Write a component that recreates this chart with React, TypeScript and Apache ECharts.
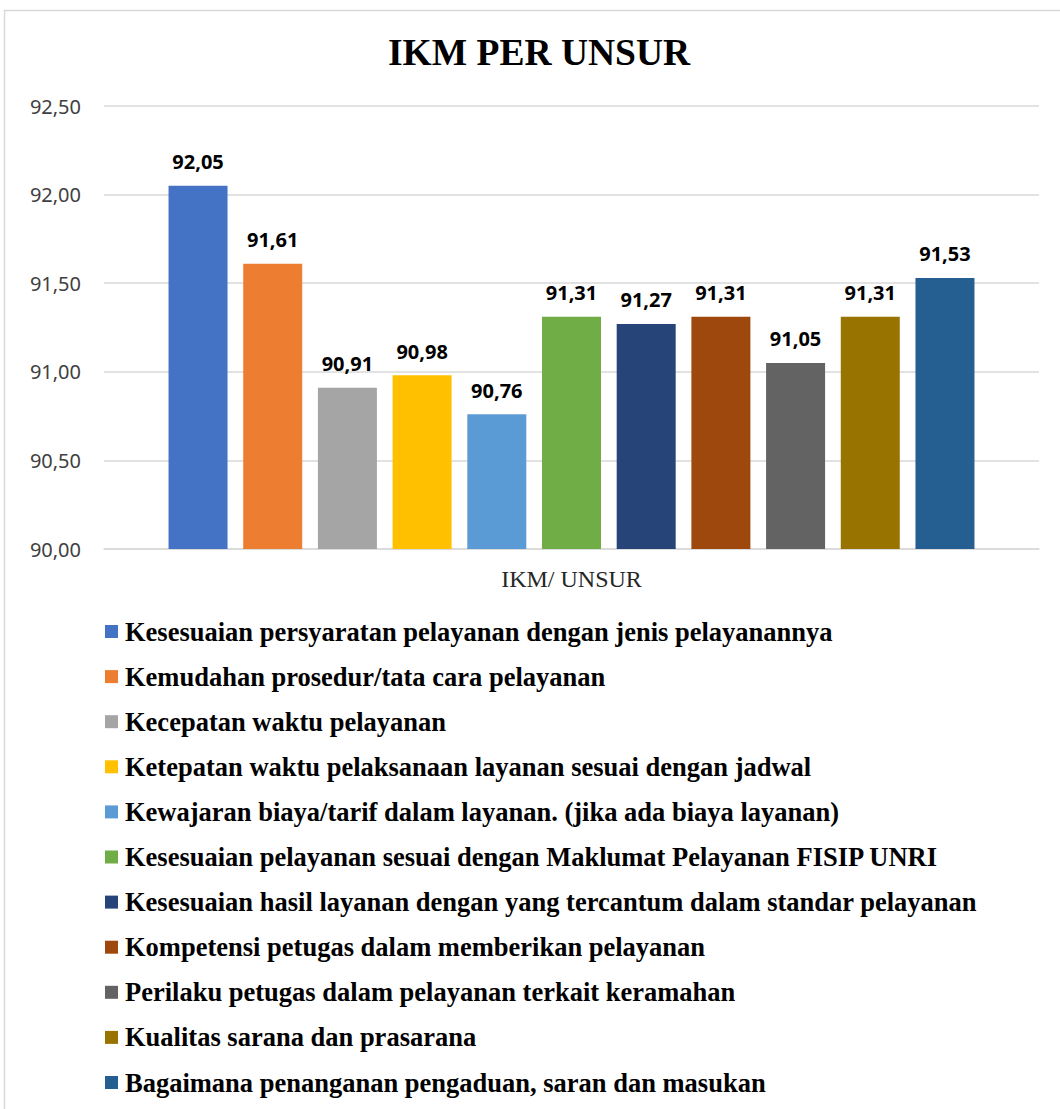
import React, { useEffect, useRef } from "react";
import * as echarts from "echarts";

const categories = ["IKM/ UNSUR"];
const seriesNames = [
  "Kesesuaian persyaratan pelayanan dengan jenis pelayanannya",
  "Kemudahan prosedur/tata cara pelayanan",
  "Kecepatan waktu pelayanan",
  "Ketepatan waktu pelaksanaan layanan sesuai dengan jadwal",
  "Kewajaran biaya/tarif dalam layanan. (jika ada biaya layanan)",
  "Kesesuaian pelayanan sesuai dengan Maklumat Pelayanan FISIP UNRI",
  "Kesesuaian hasil layanan dengan yang tercantum dalam standar pelayanan",
  "Kompetensi petugas dalam memberikan pelayanan",
  "Perilaku petugas dalam pelayanan terkait keramahan",
  "Kualitas sarana dan prasarana",
  "Bagaimana penanganan pengaduan, saran dan masukan",
];
const values = [92.05, 91.61, 90.91, 90.98, 90.76, 91.31, 91.27, 91.31, 91.05, 91.31, 91.53];
const colors = [
  "#4472C4", "#ED7D31", "#A5A5A5", "#FFC000", "#5B9BD5", "#70AD47",
  "#264478", "#9E480E", "#636363", "#997300", "#255E91",
];

const fmt = (v: number) => v.toFixed(2).replace(".", ",");

export default function App() {
  const ref = useRef<HTMLDivElement>(null);
  useEffect(() => {
    const chart = echarts.init(ref.current!, null, { renderer: "svg" });
    chart.setOption({
      animation: false,
      backgroundColor: "#ffffff",
      title: {
        text: "IKM PER UNSUR",
        left: 383,
        top: 28,
        textStyle: {
          fontFamily: "Liberation Serif",
          fontWeight: "bold",
          fontSize: 37.5,
          color: "#000000",
        },
      },
      graphic: [
        {
          type: "rect",
          shape: { x: 4.5, y: 10.5, width: 1070, height: 1110 },
          style: { fill: "none", stroke: "#d9d9d9", lineWidth: 1.5 },
          silent: true,
        },
      ],
      legend: {
        orient: "vertical",
        left: 105,
        top: 618,
        height: 490,
        padding: 0,
        itemWidth: 13,
        itemHeight: 13,
        itemGap: 18.1,
        icon: "rect",
        data: seriesNames,
        textStyle: {
          fontFamily: "Liberation Serif",
          fontWeight: "bold",
          fontSize: 26.5,
          lineHeight: 26,
          color: "#000000",
          padding: [0, 0, 0, 2],
        },
      },
      grid: { left: 104, right: 21, top: 106, bottom: 560, containLabel: false },
      xAxis: {
        type: "category",
        data: categories,
        axisTick: { show: false },
        axisLine: { show: true, lineStyle: { color: "#d9d9d9", width: 1.5 } },
        axisLabel: {
          margin: 18,
          fontFamily: "Liberation Serif",
          fontSize: 24,
          color: "#262626",
        },
      },
      yAxis: {
        type: "value",
        min: 90,
        max: 92.5,
        interval: 0.5,
        axisLine: { show: false },
        axisTick: { show: false },
        splitLine: { lineStyle: { color: "#d9d9d9", width: 1.5 } },
        axisLabel: {
          margin: 23,
          fontFamily: "Noto Sans",
          fontSize: 20,
          color: "#404040",
          formatter: (v: number) => fmt(v),
        },
      },
      series: seriesNames.map((name, i) => ({
        name,
        type: "bar",
        data: [values[i]],
        barWidth: 59,
        barGap: "26.6%",
        itemStyle: { color: colors[i] },
        label: {
          show: true,
          position: "top",
          distance: 14,
          fontFamily: "Noto Sans",
          fontWeight: "bold",
          fontSize: 20,
          color: "#000000",
          formatter: (p: any) => fmt(p.value),
        },
      })),
    });
    return () => chart.dispose();
  }, []);
  return (
    <div
      ref={ref}
      style={{ position: "absolute", left: 0, top: 0, width: 1060, height: 1109 }}
    />
  );
}
